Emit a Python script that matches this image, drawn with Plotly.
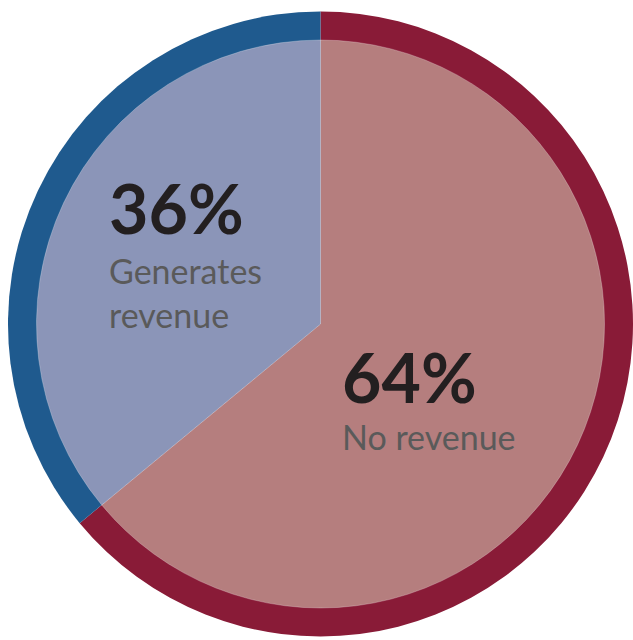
import plotly.graph_objects as go

labels = ["No revenue", "Generates revenue"]
label_lines = [["No revenue"], ["Generates", "revenue"]]
values = [64, 36]
outer_colors = ["#891B37", "#1F5A8E"]
inner_colors = ["#B57E7E", "#8B95B8"]

W, H = 633, 640
cx, cy = 320.5, 324.0
R_out, R_in = 312.5, 284.0

def dom(r):
    return dict(x=[max(0.0, (cx - r) / W), min(1.0, (cx + r) / W)],
                y=[max(0.0, 1 - (cy + r) / H), min(1.0, 1 - (cy - r) / H)])

fig = go.Figure()
fig.add_trace(go.Pie(labels=labels, values=values, sort=False, direction="clockwise",
                     rotation=0, textinfo="none", hoverinfo="skip",
                     marker=dict(colors=outer_colors, line=dict(width=0)),
                     domain=dom(R_out), showlegend=False))
fig.add_trace(go.Pie(labels=labels, values=values, sort=False, direction="clockwise",
                     rotation=0, textinfo="none", hoverinfo="skip",
                     marker=dict(colors=inner_colors, line=dict(width=0.5, color="rgba(255,255,255,0.5)")),
                     domain=dom(R_in), showlegend=False))

# label positions (pixel anchors)
pos = [(340, 376, [436]), (107, 207, [270, 314])]
annotations = []
for v, lines, (x, ynum, ylines) in zip(values, label_lines, pos):
    annotations.append(dict(x=x / W, y=1 - ynum / H, xref="paper", yref="paper",
                            xanchor="left", yanchor="middle", showarrow=False,
                            text=f"<b>{v}%</b>",
                            font=dict(family="Lato", size=68, color="#231F20")))
    for ln, yl in zip(lines, ylines):
        annotations.append(dict(x=x / W, y=1 - yl / H, xref="paper", yref="paper",
                                xanchor="left", yanchor="middle", showarrow=False,
                                text=ln,
                                font=dict(family="Lato", size=34, color="#5A5A5A")))

fig.update_layout(width=W, height=H, margin=dict(l=0, r=0, t=0, b=0),
                  paper_bgcolor="white", plot_bgcolor="white",
                  annotations=annotations)
fig.write_html("out.html", config={"displayModeBar": False},
               post_script="document.body.style.margin='0px';")
